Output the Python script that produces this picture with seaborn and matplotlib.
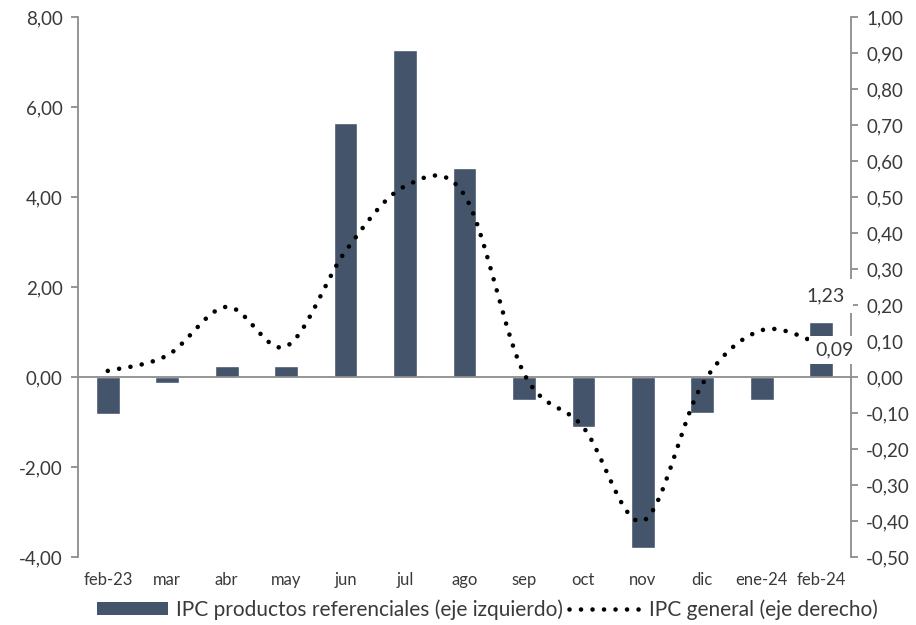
import numpy as np
import pandas as pd
import seaborn as sns
from matplotlib import pyplot as plt
import matplotlib.ticker as mtick
from matplotlib.patches import Patch
from matplotlib.lines import Line2D

meses = ['feb-23', 'mar', 'abr', 'may', 'jun', 'jul', 'ago',
         'sep', 'oct', 'nov', 'dic', 'ene-24', 'feb-24']
ipc_referenciales = [-0.83, -0.13, 0.24, 0.24, 5.64, 7.27, 4.64,
                     -0.51, -1.11, -3.80, -0.80, -0.51, 1.23]
ipc_general = [0.017, 0.06, 0.195, 0.085, 0.35, 0.53, 0.505,
               0.01, -0.14, -0.40, -0.02, 0.13, 0.09]

bar_color = '#44546A'
txt_color = '#3A3A3A'
axis_color = '#8C8C8C'
dots = (0, (0.01, 2.5))

sns.set_style("white")
plt.rcParams['font.family'] = ['Lato', 'DejaVu Sans']

df = pd.DataFrame({'mes': meses, 'ref': ipc_referenciales})
fmt = mtick.FuncFormatter(lambda v, p: f'{v:.2f}'.replace('.', ','))

fig = plt.figure(figsize=(9.16, 6.25), dpi=100)
ax = fig.add_axes([0.0852, 0.1088, 0.8438, 0.864])
sns.barplot(data=df, x='mes', y='ref', color=bar_color, width=0.4,
            saturation=1, ax=ax, zorder=2)
ax.set_xlim(-0.5, 12.5)
ax.set_ylim(-4, 8)
ax.set_xlabel('')
ax.set_ylabel('')
ax.yaxis.set_major_locator(mtick.MultipleLocator(2))
ax.yaxis.set_major_formatter(fmt)

# x axis line at zero with ticks at the category boundaries
ax.spines['bottom'].set_position(('data', 0))
ax.spines['top'].set_visible(False)
ax.spines['right'].set_visible(False)
for s in ['left', 'bottom']:
    ax.spines[s].set_color(axis_color)
    ax.spines[s].set_linewidth(1.3)
ax.set_xticks(np.arange(-0.5, 13, 1))
ax.set_xticklabels([])
ax.tick_params(axis='x', direction='out', length=5, color=axis_color, width=1.3)
ax.tick_params(axis='y', direction='out', length=5, color=axis_color, width=1.3,
               labelsize=13.5, labelcolor=txt_color, pad=6)

# category labels at the bottom of the plot
secax = ax.secondary_xaxis(-0.005)
secax.set_xticks(range(len(meses)))
secax.set_xticklabels(meses)
secax.tick_params(length=0, labelsize=12, labelcolor=txt_color, pad=9)
secax.spines['bottom'].set_visible(False)

# right axis: general CPI, smoothed dotted line
ax2 = ax.twinx()
ax2.set_ylim(-0.5, 1.0)
ax2.yaxis.set_major_locator(mtick.MultipleLocator(0.1))
ax2.yaxis.set_major_formatter(fmt)
for s in ['left', 'top', 'bottom']:
    ax2.spines[s].set_visible(False)
ax2.spines['right'].set_color(axis_color)
ax2.spines['right'].set_linewidth(1.3)
ax2.tick_params(axis='y', direction='out', length=5, color=axis_color, width=1.3,
                labelsize=13.5, labelcolor=txt_color, pad=6)

# Catmull-Rom curve through the monthly points (Excel "smoothed line")
x = np.arange(len(ipc_general), dtype=float)
y = np.array(ipc_general)
px = np.concatenate([[x[0]], x, [x[-1]]])
py = np.concatenate([[y[0]], y, [y[-1]]])
xs, ys = [], []
for i in range(1, len(px) - 2):
    t = np.linspace(0, 1, 25)[:-1] if i < len(px) - 3 else np.linspace(0, 1, 25)
    for arr, out in ((px, xs), (py, ys)):
        p0, p1, p2, p3 = arr[i - 1], arr[i], arr[i + 1], arr[i + 2]
        out.extend(0.5 * ((2 * p1) + (-p0 + p2) * t
                          + (2 * p0 - 5 * p1 + 4 * p2 - p3) * t ** 2
                          + (-p0 + 3 * p1 - 3 * p2 + p3) * t ** 3))
ax2.plot(xs, ys, color='black', lw=3.3, linestyle=dots,
         dash_capstyle='round', zorder=3)

# data labels for the last month
ax2.text(12.07, 0.225, '1,23', ha='center', va='center',
         fontsize=14, color=txt_color, zorder=10, clip_on=False,
         bbox=dict(facecolor='white', edgecolor='none', boxstyle='square,pad=0.45'))
ax2.text(12.22, 0.075, '0,09', ha='center', va='center',
         fontsize=14, color=txt_color, zorder=10, clip_on=False,
         bbox=dict(facecolor='white', edgecolor='none', boxstyle='square,pad=0.3'))

handles = [Patch(facecolor=bar_color, edgecolor='none'),
           Line2D([0], [0], color='black', lw=3.3, linestyle=dots,
                  dash_capstyle='round')]
fig.legend(handles, ['IPC productos referenciales (eje izquierdo)',
                     'IPC general (eje derecho)'],
           loc='lower center', bbox_to_anchor=(0.532, -0.022), ncol=2, frameon=False,
           fontsize=15, labelcolor=txt_color, handlelength=3.4, handleheight=0.55,
           columnspacing=0.3, handletextpad=0.4)

fig.savefig('out.png', dpi=100)
